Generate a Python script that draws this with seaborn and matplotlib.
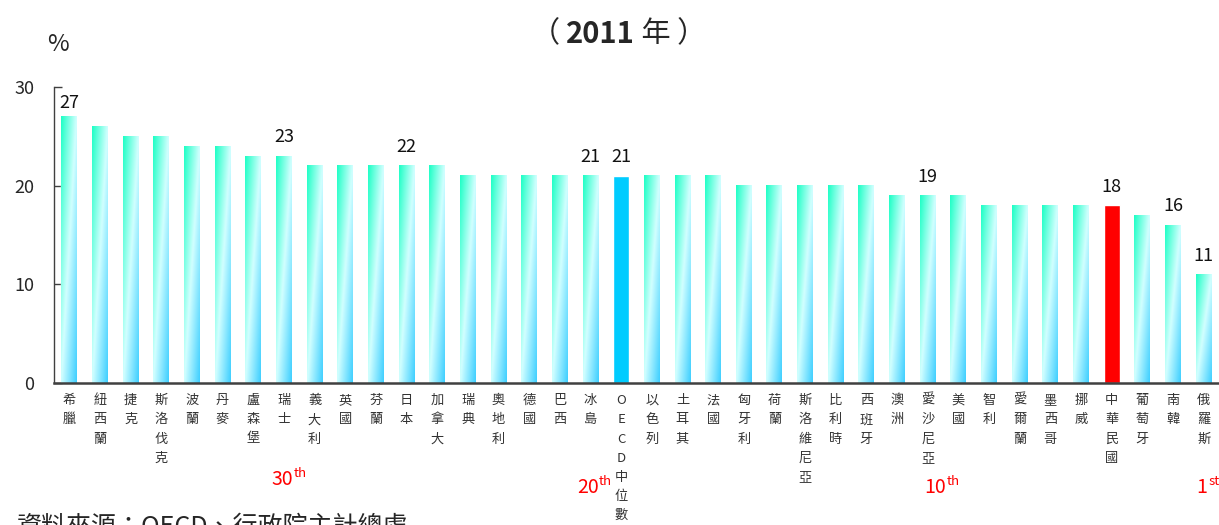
import numpy as np
import pandas as pd
import matplotlib
matplotlib.use("Agg")
import matplotlib.pyplot as plt
import matplotlib.transforms as mtransforms
from matplotlib.colors import LinearSegmentedColormap
import seaborn as sns

# data (2011)
countries = ['希臘', '紐西蘭', '捷克', '斯洛伐克', '波蘭', '丹麥', '盧森堡', '瑞士', '義大利',
             '英國', '芬蘭', '日本', '加拿大', '瑞典', '奧地利', '德國', '巴西', '冰島',
             'OECD中位數', '以色列', '土耳其', '法國', '匈牙利', '荷蘭', '斯洛維尼亞', '比利時',
             '西班牙', '澳洲', '愛沙尼亞', '美國', '智利', '愛爾蘭', '墨西哥', '挪威',
             '中華民國', '葡萄牙', '南韓', '俄羅斯']
values = [27, 26, 25, 25, 24, 24, 23, 23, 22, 22, 22, 22, 22, 21, 21, 21, 21, 21,
          21, 21, 21, 21, 20, 20, 20, 20, 20, 19, 19, 19, 18, 18, 18, 18, 18, 17, 16, 11]
labelled = ['希臘', '瑞士', '日本', '冰島', 'OECD中位數', '愛沙尼亞', '中華民國', '南韓', '俄羅斯']
rank_at = ['瑞士', '冰島', '愛沙尼亞', '俄羅斯']
rank_num = ['30', '20', '10', '1']
rank_sfx = ['th', 'th', 'th', 'st']
highlight = {'OECD中位數': '#00CCFF', '中華民國': '#FF0000'}

FONT = ['Noto Sans CJK TC', 'DejaVu Sans']
sns.set_style("white")
plt.rcParams['font.family'] = FONT

df = pd.DataFrame({'country': countries, 'value': values})

fig = plt.figure(figsize=(12.19, 5.25), dpi=100)
ax = fig.add_axes([54 / 1219, 1 - 383 / 525, (1219 - 54) / 1219, 296 / 525])

sns.barplot(data=df, x='country', y='value', hue='country', dodge=False,
            palette=[highlight.get(c, '#80FFE0') for c in countries],
            width=0.52, legend=False, ax=ax, saturation=1)

# gradient fill for the ordinary bars
cmap = LinearSegmentedColormap.from_list('bar', ['#1EFFC6', '#D2FFFF', '#3FCFFF'])
ny, nx = 120, 30
u = np.linspace(0, 1, nx)[None, :]
v = np.linspace(0, 1, ny)[:, None]
grad = cmap((u + v) / 2)
for patch, c in zip(ax.patches, countries):
    if c in highlight:
        continue
    x0, y0 = patch.get_x(), patch.get_y()
    w, h = patch.get_width(), patch.get_height()
    ax.imshow(grad, extent=(x0, x0 + w, y0, y0 + h), aspect='auto',
              interpolation='bilinear', zorder=patch.get_zorder())
    patch.set_facecolor('none')

ax.set_xlim(-0.5, len(countries) - 0.5)
ax.set_ylim(0, 30)
ax.set_yticks([0, 10, 20, 30])
ax.tick_params(axis='y', direction='in', length=6, width=1, color='#404040',
               pad=14, labelsize=13, left=True)
ax.tick_params(axis='x', length=0, pad=8)
ax.set_xticks(range(len(countries)))
ax.set_xticklabels(['\n'.join(c) for c in countries], fontsize=9.5,
                   color='#333333', linespacing=1.62, va='top')
ax.set_xlabel('')
ax.set_ylabel('')
sns.despine(ax=ax)
ax.spines['left'].set_color('#404040')
ax.spines['left'].set_linewidth(1)
ax.spines['bottom'].set_color('#404040')
ax.spines['bottom'].set_linewidth(1.8)

# value labels
for c in labelled:
    i = countries.index(c)
    off = 3 if values[i] >= 27 else 7
    ax.annotate(str(values[i]), (i, values[i]), xytext=(0, off), textcoords='offset points',
                ha='center', va='bottom', fontsize=13, color='#111111')

# rank markers under the axis
trans = mtransforms.blended_transform_factory(ax.transData, ax.transAxes)
rank_dx = [0.31, 0.26, 0.59, 0.12]
rank_y = [-0.345, -0.372, -0.372, -0.372]
for c, n, s, dx, yy in zip(rank_at, rank_num, rank_sfx, rank_dx, rank_y):
    i = countries.index(c)
    t = ax.text(i + dx, yy, n, transform=trans, ha='right', va='baseline',
                fontsize=14, color='#FF0000')
    ax.annotate(s, xy=(1, 0.5), xycoords=t, xytext=(0.5, 0), textcoords='offset points',
                ha='left', va='bottom', fontsize=9.5, color='#FF0000')

# title and unit
t1 = fig.text(0.435, 0.92, '（', fontsize=21, ha='left', va='baseline')
t2 = ax.annotate('2011', xy=(1, 0), xycoords=t1, xytext=(5, 0), textcoords='offset points',
                 fontsize=21, fontweight='bold', ha='left', va='bottom')
t3 = ax.annotate(' 年 ）', xy=(1, 0), xycoords=t2, fontsize=21, ha='left', va='bottom')
fig.text(47 / 1219, 1 - 51 / 525, '%', fontsize=17, ha='left', va='baseline')

fig.text(17 / 1219, 0.022, '資料來源：OECD、行政院主計總處', fontsize=18, ha='left', va='top')

fig.savefig('out.png', dpi=100)
